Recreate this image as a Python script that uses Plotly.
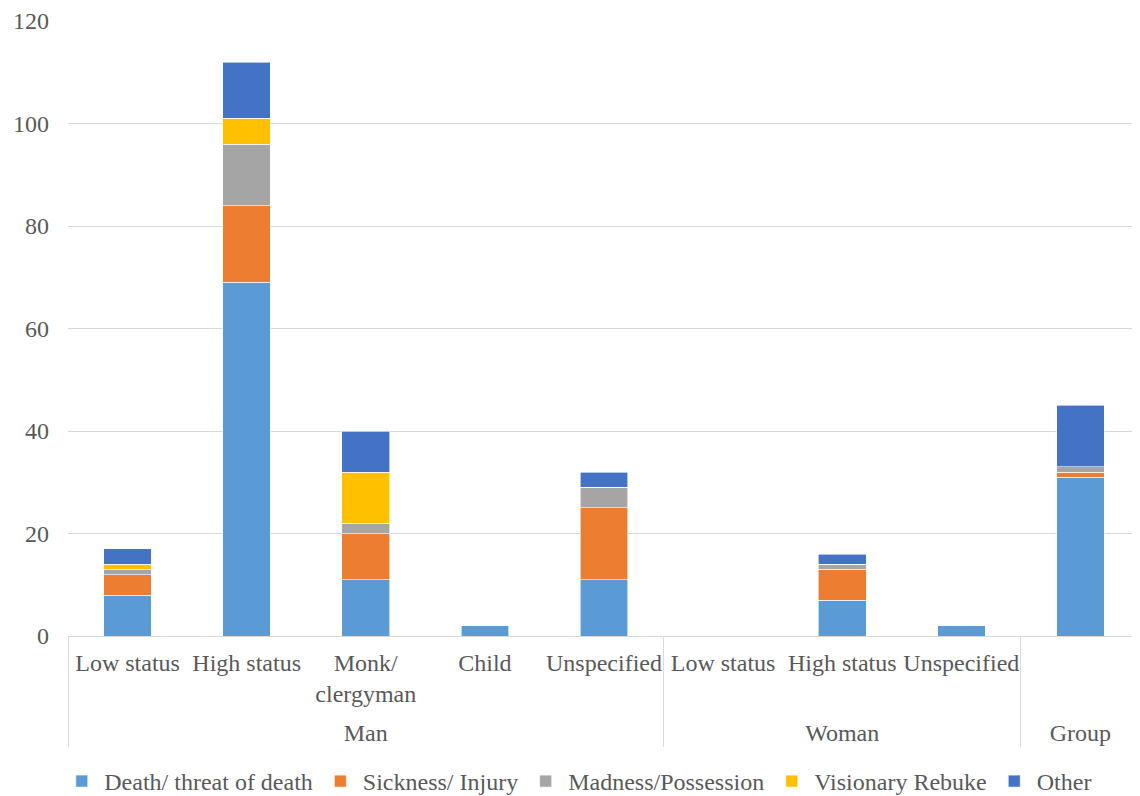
import plotly.graph_objects as go

groups = ["Man", "Man", "Man", "Man", "Man", "Woman", "Woman", "Woman", "Group"]
# the Group column has no sub-label; an invisible tall glyph there only adds room below the labels
spacer = "<span style='font-size:42px;color:rgba(0,0,0,0)'>.</span>"
subcats = ["Low status", "High status", "Monk/<br>clergyman", "Child", "Unspecified",
           "Low status", "High status", "Unspecified", spacer]

series_names = ["Death/ threat of death", "Sickness/ Injury", "Madness/Possession",
                "Visionary Rebuke", "Other"]
death = [8, 69, 11, 2, 11, 0, 7, 2, 31]
sickness = [4, 15, 9, 0, 14, 0, 6, 0, 1]
madness = [1, 12, 2, 0, 4, 0, 1, 0, 1]
visionary = [1, 5, 10, 0, 0, 0, 0, 0, 0]
other = [3, 11, 8, 0, 3, 0, 2, 0, 12]
colors = ["#5B9BD5", "#ED7D31", "#A5A5A5", "#FFC000", "#4472C4"]

y_ticks = [0, 20, 40, 60, 80, 100, 120]

font = dict(family="Liberation Serif, Times New Roman, DejaVu Serif, serif", size=24, color="#595959")

fig = go.Figure()
for name, vals, col in zip(series_names, [death, sickness, madness, visionary, other], colors):
    fig.add_trace(go.Bar(x=[groups, subcats], y=vals, name=name,
                         marker=dict(color=col, line=dict(color="white", width=0.6))))

# page body has an 8px margin, so the figure is sized/offset to compensate
fig.update_layout(
    barmode="stack", bargap=0.6,
    width=1132, height=788,
    margin=dict(l=60, r=0, t=13, b=160, autoexpand=False),
    plot_bgcolor="white", paper_bgcolor="white",
    font=font,
    legend=dict(orientation="h", x=0.476, xanchor="center", y=-0.2, yanchor="top",
                font=font, traceorder="normal", itemwidth=35),
    xaxis=dict(type="multicategory", showline=True, linecolor="#d9d9d9", linewidth=1,
               showdividers=True, dividercolor="#d9d9d9", dividerwidth=1,
               tickfont=font, ticks="", tickangle=0, ticklabelstandoff=5, automargin=False),
    yaxis=dict(range=[0, 120], tickvals=y_ticks, showgrid=True, gridcolor="#d9d9d9",
               gridwidth=1, zeroline=False, showline=False, tickfont=font, ticks="",
               ticklabelstandoff=18, automargin=False),
)
fig.write_html("out.html")
